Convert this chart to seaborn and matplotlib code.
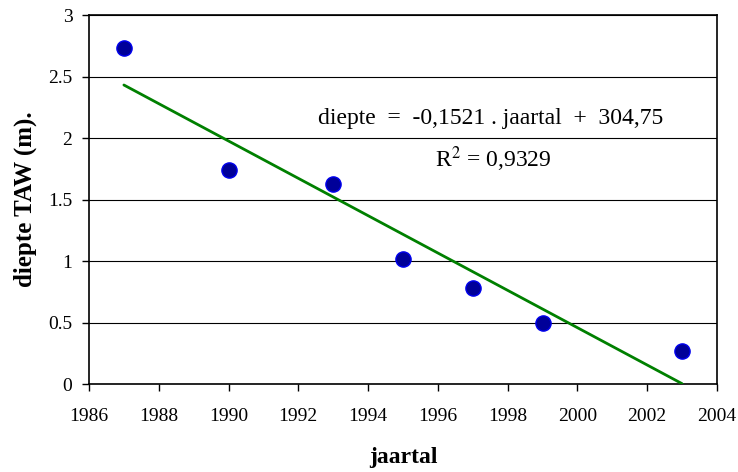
import matplotlib
matplotlib.use("Agg")
import matplotlib.pyplot as plt
import seaborn as sns
import pandas as pd

years = [1987, 1990, 1993, 1995, 1997, 1999, 2003]
depth = [2.73, 1.74, 1.63, 1.02, 0.78, 0.50, 0.27]
x_ticks = [1986, 1988, 1990, 1992, 1994, 1996, 1998, 2000, 2002, 2004]
y_ticks = [0, 0.5, 1, 1.5, 2, 2.5, 3]
y_tick_labels = ["0", "0.5", "1", "1.5", "2", "2.5", "3"]

sns.set_theme(style="white")
plt.rcParams['font.family'] = ['Liberation Serif', 'DejaVu Serif']
plt.rcParams.update({"text.color": "black", "axes.labelcolor": "black",
                     "xtick.color": "black", "ytick.color": "black"})

df = pd.DataFrame({"jaartal": years, "diepte": depth})

fig = plt.figure(figsize=(7.38, 4.72), dpi=100)
ax = fig.add_axes([0.1206, 0.1864, 0.8509, 0.7818])

sns.regplot(data=df, x="jaartal", y="diepte", ax=ax, ci=None,
            scatter_kws=dict(s=120, color="#000099", edgecolors="#0000ee",
                             linewidths=1, zorder=4, alpha=1),
            line_kws=dict(color="#008000", lw=2.0, zorder=3))

ax.set_xlim(1986, 2004)
ax.set_ylim(0, 3)
ax.set_xticks(x_ticks)
ax.set_xticklabels([str(t) for t in x_ticks])
ax.set_yticks(y_ticks)
ax.set_yticklabels(y_tick_labels)
ax.tick_params(axis="both", direction="out", length=5, width=1, color="black",
               labelcolor="black", labelsize=14, bottom=True, left=True)
ax.tick_params(axis="x", pad=12)
ax.tick_params(axis="y", pad=7)
ax.yaxis.grid(True, color="black", lw=0.8)
ax.set_axisbelow(True)
for s in ax.spines.values():
    s.set_color("black")
    s.set_linewidth(1.2)

ax.set_xlabel("jaartal", fontsize=17, fontweight="bold", color="black")
ax.set_ylabel("diepte TAW (m).", fontsize=18, fontweight="bold", color="black")
ax.xaxis.set_label_coords(0.5, -0.17)
ax.yaxis.set_label_coords(-0.083, 0.5)

ax.text(1997.5, 2.16, "diepte  =  -0,1521 . jaartal  +  304,75", fontsize=17,
        ha="center", va="center", color="black")
ax.text(1997.6, 1.83, "R$^2$ = 0,9329", fontsize=17, ha="center", va="center",
        color="black", math_fontfamily="stix")

fig.savefig("out.png", dpi=100)
